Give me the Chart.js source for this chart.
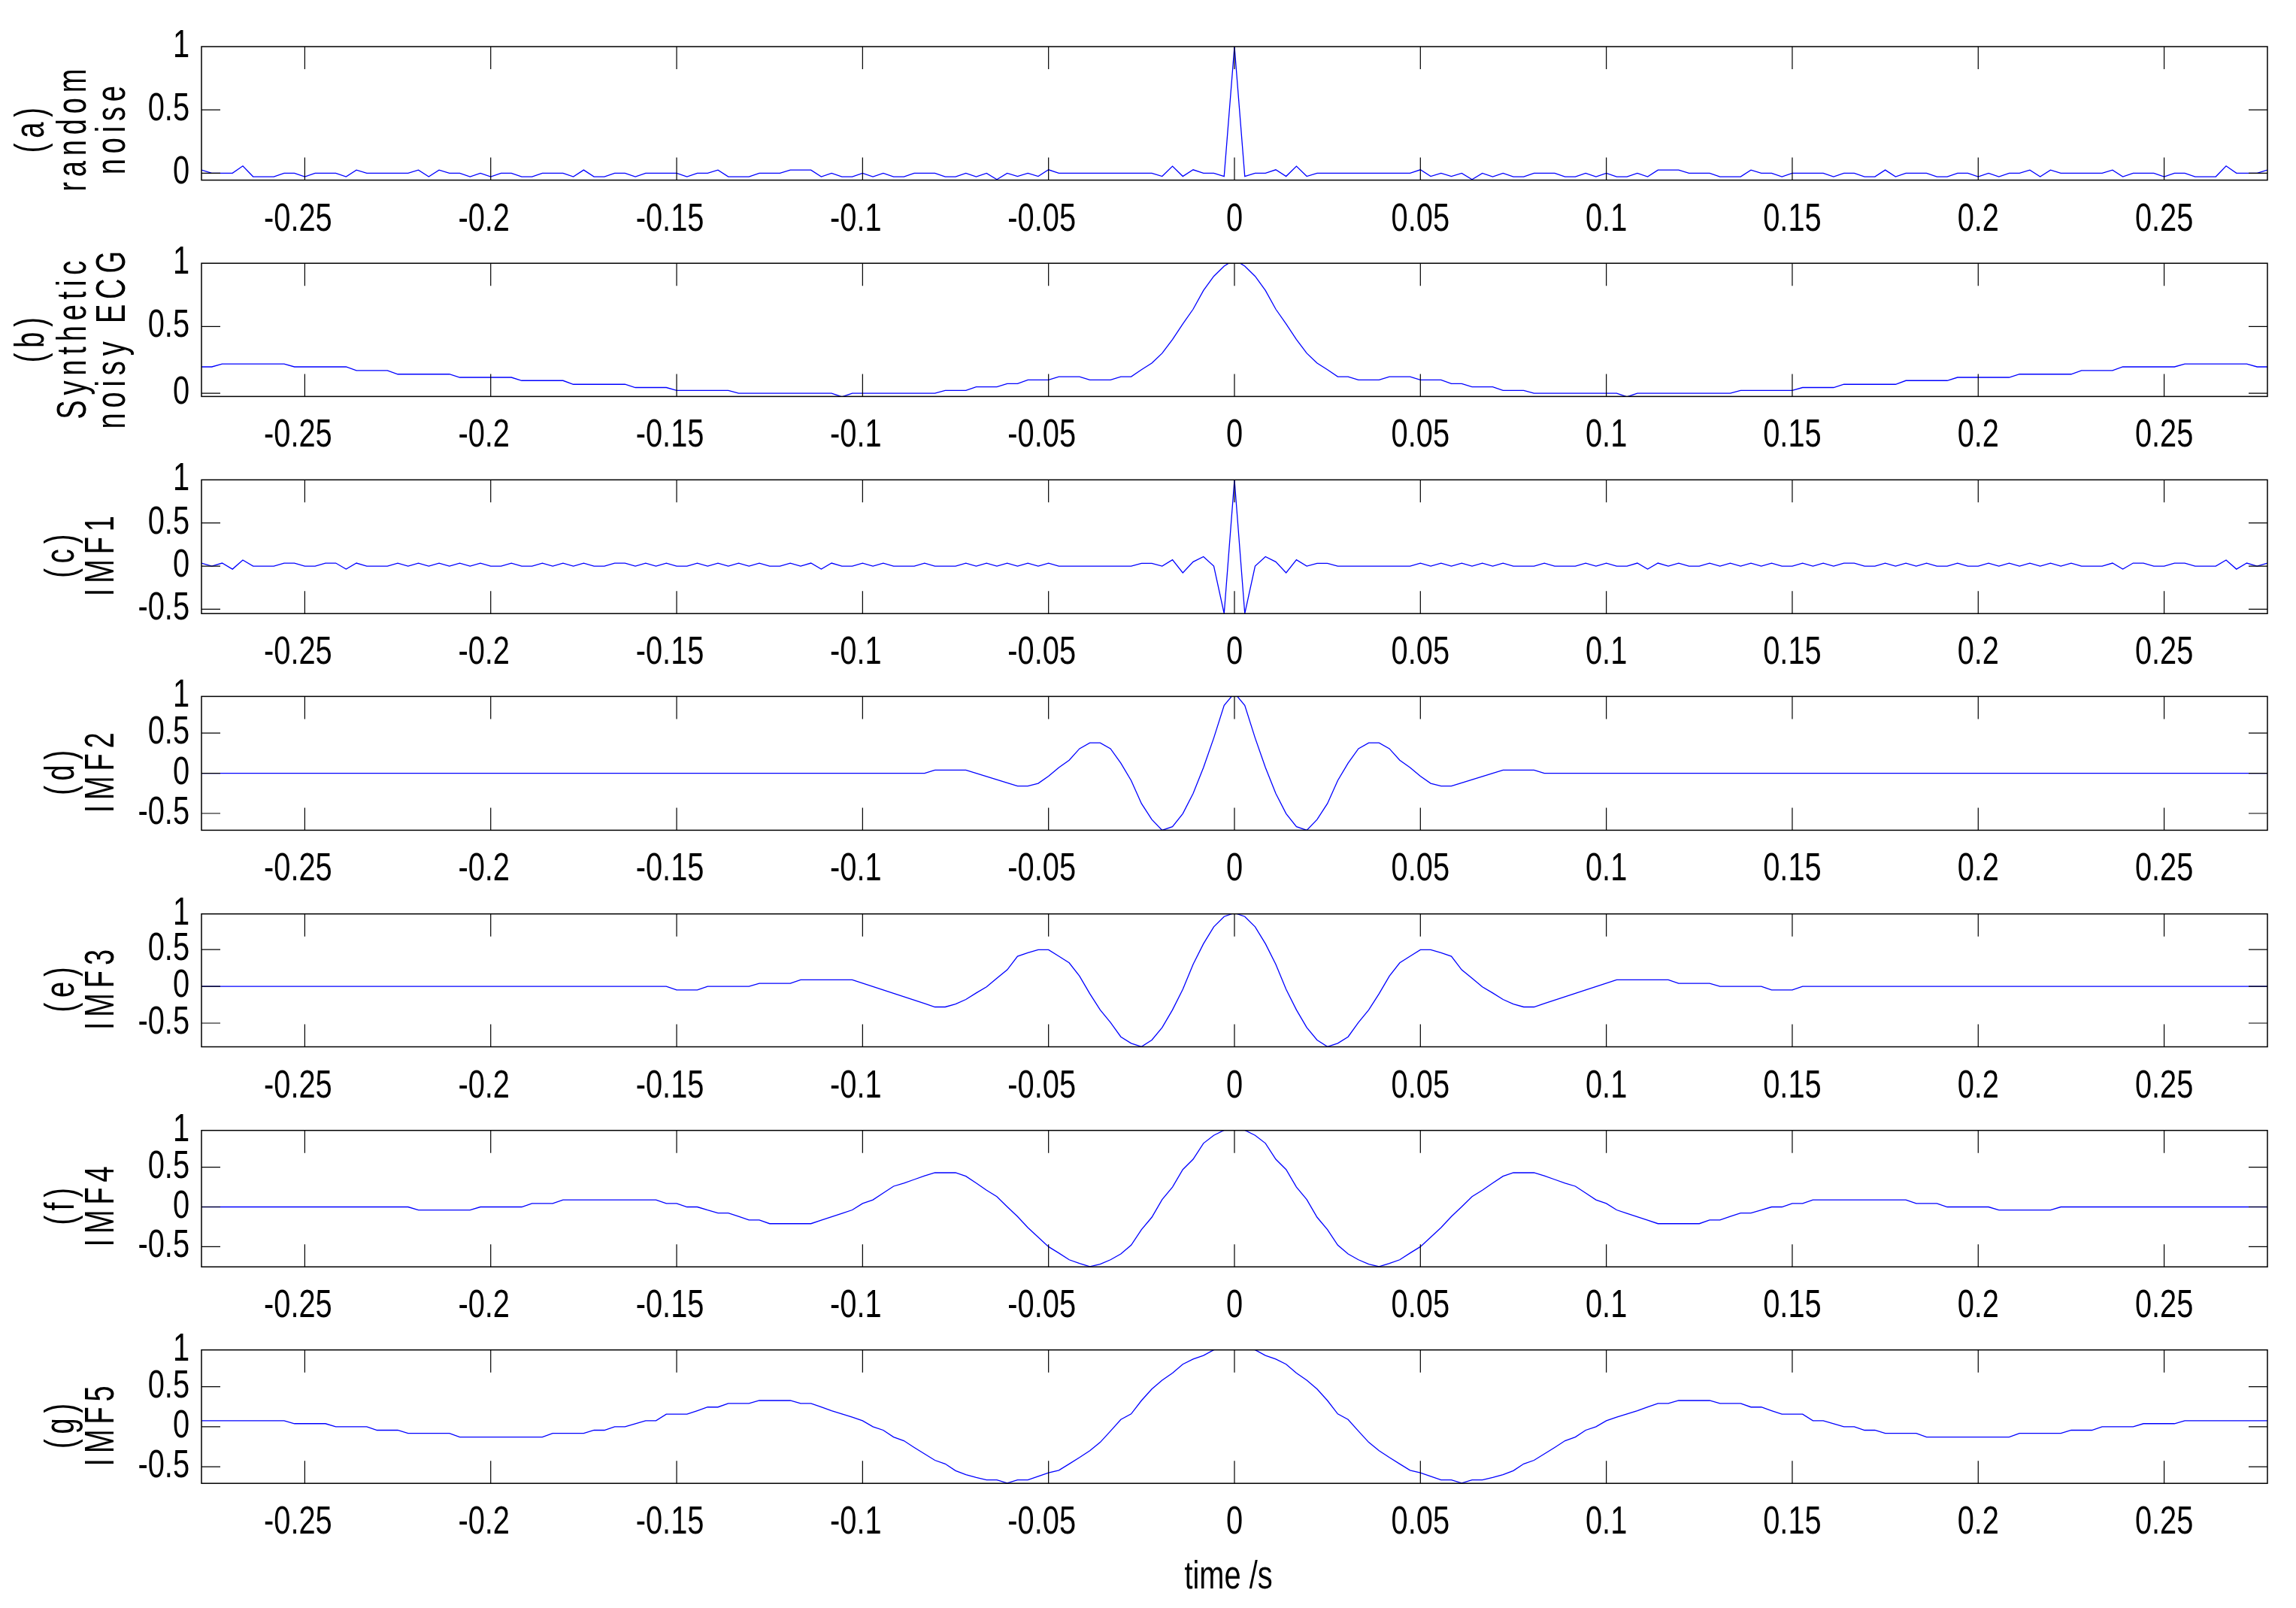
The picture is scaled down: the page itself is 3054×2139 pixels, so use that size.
<!DOCTYPE html>
<html>
<head>
<meta charset="utf-8">
<script src="https://cdn.jsdelivr.net/npm/chart.js@4.4.1/dist/chart.umd.min.js"></script>
<style>
    html, body { margin: 0; padding: 0; background: #fff; }
    #figure { position: relative; width: 3054px; height: 2139px; overflow: hidden; background: #fff; }
    #figure canvas { position: absolute; left: 0; }
</style>
</head>
<body>
<div id="figure"></div>
<script>
// Sample lags: 201 samples at 360 Hz, -100..100
const sampleRate = 360;
const lags = [];
for (let n = -100; n <= 100; n++) lags.push(n / sampleRate);

// x axis ticks (seconds) and their labels
const xTicks      = [-0.25, -0.2, -0.15, -0.1, -0.05, 0, 0.05, 0.1, 0.15, 0.2, 0.25];
const xTickLabels = ["-0.25", "-0.2", "-0.15", "-0.1", "-0.05", "0", "0.05", "0.1", "0.15", "0.2", "0.25"];

// (a) random noise
const noiseSeries = [
    .025,0,0,0,.057,-.028,-.028,-.028,0,0,
    -.028,0,0,0,-.028,.025,0,0,0,0,
    0,.025,-.028,.025,0,0,-.028,0,-.028,0,
    0,-.028,-.028,0,0,0,-.028,.025,-.028,-.028,
    0,0,-.028,0,0,0,0,-.028,0,0,
    .025,-.028,-.028,-.028,0,0,0,.025,.025,.025,
    -.028,0,-.028,-.028,0,-.028,0,-.028,-.028,0,
    0,0,-.028,-.028,0,-.028,0,-.05,0,-.025,
    0,-.025,.027,0,0,0,0,0,0,0,
    0,0,0,-.025,.055,-.025,.027,0,0,-.025,
    1,
    -.025,0,0,.027,-.025,.055,-.025,0,0,0,
    0,0,0,0,0,0,0,.027,-.025,0,
    -.025,0,-.05,0,-.028,0,-.028,-.028,0,0,
    0,-.028,-.028,0,-.028,0,-.028,-.028,0,-.028,
    .025,.025,.025,0,0,0,-.028,-.028,-.028,.025,
    0,0,-.028,0,0,0,0,-.028,0,0,
    -.028,-.028,.025,-.028,0,0,0,-.028,-.028,0,
    0,-.028,0,-.028,0,0,.025,-.028,.025,0,
    0,0,0,0,.025,-.028,0,0,0,-.028,
    0,0,-.028,-.028,-.028,.057,0,0,0,.025
];

// (b) synthetic noisy ECG
const ecgSeries = [
    .198,.198,.22,.22,.22,.22,.22,.22,.22,.198,
    .198,.198,.198,.198,.198,.17,.17,.17,.17,.143,
    .143,.143,.143,.143,.143,.119,.119,.119,.119,.119,
    .119,.095,.095,.095,.095,.095,.067,.067,.067,.067,
    .067,.067,.043,.043,.043,.043,.021,.021,.021,.021,
    .021,.021,0,0,0,0,0,0,0,0,
    0,0,-.027,0,0,0,0,0,0,0,
    0,0,.021,.021,.021,.048,.048,.048,.072,.072,
    .1,.1,.1,.124,.124,.124,.1,.1,.1,.124,
    .124,.177,.226,.3,.403,.52,.63,.77,.877,.953,
    1,
    .953,.877,.77,.63,.52,.403,.3,.226,.177,.124,
    .124,.1,.1,.1,.124,.124,.124,.1,.1,.1,
    .072,.072,.048,.048,.048,.021,.021,.021,0,0,
    0,0,0,0,0,0,0,-.027,0,0,
    0,0,0,0,0,0,0,0,.021,.021,
    .021,.021,.021,.021,.043,.043,.043,.043,.067,.067,
    .067,.067,.067,.067,.095,.095,.095,.095,.095,.119,
    .119,.119,.119,.119,.119,.143,.143,.143,.143,.143,
    .143,.17,.17,.17,.17,.198,.198,.198,.198,.198,
    .198,.22,.22,.22,.22,.22,.22,.22,.198,.198
];

// (c) IMF1
const imf1Series = [
    .035,0,.035,-.035,.07,0,0,0,.035,.035,
    0,0,.035,.035,-.035,.035,0,0,0,.035,
    0,.035,0,.035,0,.035,0,.035,0,0,
    .035,0,0,.035,0,.035,0,.035,0,0,
    .035,.035,0,.035,0,.035,0,0,.035,0,
    .035,0,.035,0,.035,0,0,.035,0,.035,
    -.035,.035,0,0,.035,0,.035,0,0,0,
    .035,0,0,0,.035,0,.035,0,.035,0,
    .035,0,.035,0,0,0,0,0,0,0,
    0,.033,.033,0,.073,-.077,.05,.11,0,-.55,
    1,
    -.55,0,.11,.05,-.077,.073,0,.033,.033,0,
    0,0,0,0,0,0,0,.035,0,.035,
    0,.035,0,.035,0,.035,0,0,0,.035,
    0,0,0,.035,0,.035,0,0,.035,-.035,
    .035,0,.035,0,0,.035,0,.035,0,.035,
    0,.035,0,0,.035,0,.035,0,.035,.035,
    0,0,.035,0,.035,0,.035,0,0,.035,
    0,0,.035,0,.035,0,.035,0,.035,0,
    .035,0,0,0,.035,-.035,.035,.035,0,0,
    .035,.035,0,0,0,.07,-.035,.035,0,.035
];

// (d) IMF2
const imf2Series = [
    0,0,0,0,0,0,0,0,0,0,
    0,0,0,0,0,0,0,0,0,0,
    0,0,0,0,0,0,0,0,0,0,
    0,0,0,0,0,0,0,0,0,0,
    0,0,0,0,0,0,0,0,0,0,
    0,0,0,0,0,0,0,0,0,0,
    0,0,0,0,0,0,0,0,0,0,
    0,.04,.04,.04,.04,0,-.04,-.08,-.12,-.16,
    -.16,-.126,-.036,.072,.162,.306,.378,.378,.306,.126,
    -.09,-.378,-.576,-.71,-.665,-.504,-.252,.072,.44,.845,
    1,
    .845,.44,.072,-.252,-.504,-.665,-.71,-.576,-.378,-.09,
    .126,.306,.378,.378,.306,.162,.072,-.036,-.126,-.16,
    -.16,-.12,-.08,-.04,0,.04,.04,.04,.04,0,
    0,0,0,0,0,0,0,0,0,0,
    0,0,0,0,0,0,0,0,0,0,
    0,0,0,0,0,0,0,0,0,0,
    0,0,0,0,0,0,0,0,0,0,
    0,0,0,0,0,0,0,0,0,0,
    0,0,0,0,0,0,0,0,0,0,
    0,0,0,0,0,0,0,0,0,0
];

// (e) IMF3
const imf3Series = [
    0,0,0,0,0,0,0,0,0,0,
    0,0,0,0,0,0,0,0,0,0,
    0,0,0,0,0,0,0,0,0,0,
    0,0,0,0,0,0,0,0,0,0,
    0,0,0,0,0,0,-.048,-.048,-.048,0,
    0,0,0,0,.041,.041,.041,.041,.089,.089,
    .089,.089,.089,.089,.043,-.003,-.049,-.095,-.141,-.187,
    -.233,-.28,-.28,-.24,-.178,-.09,-.007,.11,.225,.41,
    .457,.498,.498,.41,.32,.14,-.1,-.32,-.49,-.686,
    -.775,-.82,-.73,-.56,-.32,-.04,.3,.58,.81,.95,
    1,
    .95,.81,.58,.3,-.04,-.32,-.56,-.73,-.82,-.775,
    -.686,-.49,-.32,-.1,.14,.32,.41,.498,.498,.457,
    .41,.225,.11,-.007,-.09,-.178,-.24,-.28,-.28,-.233,
    -.187,-.141,-.095,-.049,-.003,.043,.089,.089,.089,.089,
    .089,.089,.041,.041,.041,.041,0,0,0,0,
    0,-.048,-.048,-.048,0,0,0,0,0,0,
    0,0,0,0,0,0,0,0,0,0,
    0,0,0,0,0,0,0,0,0,0,
    0,0,0,0,0,0,0,0,0,0,
    0,0,0,0,0,0,0,0,0,0
];

// (f) IMF4
const imf4Series = [
    0,0,0,0,0,0,0,0,0,0,
    0,0,0,0,0,0,0,0,0,0,
    0,-.038,-.038,-.038,-.038,-.038,-.038,0,0,0,
    0,0,.044,.044,.044,.089,.089,.089,.089,.089,
    .089,.089,.089,.089,.089,.044,.044,0,0,-.04,
    -.076,-.076,-.12,-.165,-.165,-.21,-.21,-.21,-.21,-.21,
    -.167,-.124,-.081,-.038,.044,.089,.175,.26,.30,.345,
    .39,.43,.43,.43,.386,.30,.21,.13,.003,-.12,
    -.26,-.38,-.5,-.58,-.664,-.71,-.75,-.72,-.664,-.59,
    -.48,-.285,-.13,.094,.25,.47,.6,.8,.9,.965,
    1,
    .965,.9,.8,.6,.47,.25,.094,-.13,-.285,-.48,
    -.59,-.664,-.72,-.75,-.71,-.664,-.58,-.5,-.38,-.26,
    -.12,.003,.13,.21,.30,.386,.43,.43,.43,.39,
    .345,.30,.26,.175,.089,.044,-.038,-.081,-.124,-.167,
    -.21,-.21,-.21,-.21,-.21,-.165,-.165,-.12,-.076,-.076,
    -.04,0,0,.044,.044,.089,.089,.089,.089,.089,
    .089,.089,.089,.089,.089,.044,.044,.044,0,0,
    0,0,0,-.038,-.038,-.038,-.038,-.038,-.038,0,
    0,0,0,0,0,0,0,0,0,0,
    0,0,0,0,0,0,0,0,0,0
];

// (g) IMF5
const imf5Series = [
    .075,.075,.075,.075,.075,.075,.075,.075,.075,.038,
    .038,.038,.038,0,0,0,0,-.044,-.044,-.044,
    -.082,-.082,-.082,-.082,-.082,-.13,-.13,-.13,-.13,-.13,
    -.13,-.13,-.13,-.13,-.082,-.082,-.082,-.082,-.044,-.044,
    0,0,.038,.075,.075,.157,.157,.157,.2,.245,
    .245,.29,.29,.29,.327,.327,.327,.327,.29,.29,
    .245,.2,.16,.12,.075,0,-.044,-.13,-.176,-.26,
    -.34,-.42,-.465,-.55,-.6,-.635,-.665,-.665,-.705,-.665,
    -.665,-.62,-.575,-.545,-.465,-.385,-.3,-.195,-.055,.09,
    .16,.327,.47,.58,.67,.78,.845,.89,.96,.99,
    1,
    .99,.96,.89,.845,.78,.67,.58,.47,.327,.16,
    .09,-.055,-.195,-.3,-.385,-.465,-.545,-.575,-.62,-.665,
    -.665,-.705,-.665,-.665,-.635,-.6,-.55,-.465,-.42,-.34,
    -.26,-.176,-.13,-.044,0,.075,.12,.16,.2,.245,
    .29,.29,.327,.327,.327,.327,.29,.29,.29,.245,
    .245,.2,.157,.157,.157,.075,.075,.038,0,0,
    -.044,-.044,-.082,-.082,-.082,-.082,-.13,-.13,-.13,-.13,
    -.13,-.13,-.13,-.13,-.13,-.082,-.082,-.082,-.082,-.082,
    -.044,-.044,-.044,0,0,0,0,.038,.038,.038,
    .038,.075,.075,.075,.075,.075,.075,.075,.075,.075
];

// y ticks per panel
const yTicksPos  = [0, 0.5, 1];
const yLabelsPos = ["0", "0.5", "1"];
const yTicksSym  = [-0.5, 0, 0.5, 1];
const yLabelsSym = ["-0.5", "0", "0.5", "1"];

// Panel layout (figure pixels) and axis limits
const panels = [
    { series: noiseSeries, title: ["(a)", "random", "noise"],      top: 62.0,   bottom: 239.6,  yMin: -0.055, yMax: 1,     ticks: yTicksPos, tickLabels: yLabelsPos, shift: 16 },
    { series: ecgSeries,   title: ["(b)", "Synthetic", "noisy ECG"], top: 350.2, bottom: 527.4,  yMin: -0.024, yMax: 0.974, ticks: yTicksPos, tickLabels: yLabelsPos, shift: 7 },
    { series: imf1Series,  title: ["(c)", "IMF1"], top: 638.3,  bottom: 816.2,  yMin: -0.55,  yMax: 1,     ticks: yTicksSym, tickLabels: yLabelsSym, shift: 6 },
    { series: imf2Series,  title: ["(d)", "IMF2"], top: 926.4,  bottom: 1104.4, yMin: -0.71,  yMax: 0.957, ticks: yTicksSym, tickLabels: yLabelsSym, shift: 6 },
    { series: imf3Series,  title: ["(e)", "IMF3"], top: 1215.7, bottom: 1392.5, yMin: -0.822, yMax: 0.986, ticks: yTicksSym, tickLabels: yLabelsSym, shift: 6 },
    { series: imf4Series,  title: ["(f)", "IMF4"], top: 1503.7, bottom: 1685.2, yMin: -0.753, yMax: 0.962, ticks: yTicksSym, tickLabels: yLabelsSym, shift: 4 },
    { series: imf5Series,  title: ["(g)", "IMF5"], top: 1795.7, bottom: 1973.2, yMin: -0.708, yMax: 0.959, ticks: yTicksSym, tickLabels: yLabelsSym, shift: 6, xTitle: "time /s" }
];

const FIG_W       = 3054;
const AXIS_LEFT   = 268;
const AXIS_RIGHT  = 3016;
const X_TICK_LEN  = 30;
const Y_TICK_LEN  = 25;
const TICK_FONT   = '51px "Liberation Sans", Arial, Helvetica, sans-serif';
const LABEL_FONT  = '56px "Liberation Sans", Arial, Helvetica, sans-serif';

// Draw text squeezed horizontally (the original uses a narrow face)
function squeezedText(ctx, text, x, y, align, sx) {
    ctx.save();
    ctx.translate(x, y);
    ctx.scale(sx, 1);
    ctx.textAlign = align;
    ctx.textBaseline = "alphabetic";
    ctx.fillText(text, 0, 0);
    ctx.restore();
}

// MATLAB-style box, inward ticks and labels
const matlabAxes = {
    id: "matlabAxes",
    afterDraw(chart, args, opts) {
        const ctx = chart.ctx;
        const a   = chart.chartArea;
        const xs  = chart.scales.x;
        const ys  = chart.scales.y;

        ctx.save();
        ctx.strokeStyle = "#000";
        ctx.lineWidth = 1.2;
        ctx.beginPath();
        xTicks.forEach(v => {
            const px = xs.getPixelForValue(v);
            ctx.moveTo(px, a.bottom); ctx.lineTo(px, a.bottom - X_TICK_LEN);
            ctx.moveTo(px, a.top);    ctx.lineTo(px, a.top + X_TICK_LEN);
        });
        opts.ticks.forEach(v => {
            if (v >= ys.max) return;
            const py = ys.getPixelForValue(v);
            ctx.moveTo(a.left, py);  ctx.lineTo(a.left + Y_TICK_LEN, py);
            ctx.moveTo(a.right, py); ctx.lineTo(a.right - Y_TICK_LEN, py);
        });
        ctx.stroke();

        ctx.lineWidth = 1.5;
        ctx.strokeRect(a.left, a.top, a.right - a.left, a.bottom - a.top);

        // tick labels
        ctx.fillStyle = "#000";
        ctx.font = TICK_FONT;
        xTicks.forEach((v, i) => {
            const px = xs.getPixelForValue(v) - (v < 0 ? 9 : 0);
            squeezedText(ctx, xTickLabels[i], px, a.bottom + 67, "center", 0.78);
        });
        opts.ticks.forEach((v, i) => {
            const py = ys.getPixelForValue(Math.min(v, ys.max));
            squeezedText(ctx, opts.tickLabels[i], a.left - 16, py + 14, "right", 0.78);
        });

        // rotated y label, one column per line; narrow glyphs, spaced out
        ctx.font = LABEL_FONT;
        const cy = (a.top + a.bottom) / 2 + opts.shift;
        const lines = opts.title;
        const baseX = lines.length === 3 ? [58, 114, 166] : [98, 151];
        lines.forEach((line, i) => {
            ctx.save();
            ctx.translate(baseX[i], cy + 3);
            ctx.rotate(-Math.PI / 2);
            ctx.scale(0.68, 1);
            ctx.letterSpacing = "10px";
            ctx.textAlign = "center";
            ctx.textBaseline = "alphabetic";
            ctx.fillText(line, 0, 0);
            ctx.restore();
        });

        if (opts.xTitle) {
            ctx.font = TICK_FONT;
            squeezedText(ctx, opts.xTitle, 1634, a.bottom + 140, "center", 0.78);
        }
        ctx.restore();
    }
};

const figure = document.getElementById("figure");

panels.forEach(p => {
    const canvasTop = Math.round(p.top) - 50;
    const padTop    = p.top - canvasTop;
    const below     = p.xTitle ? 165 : 80;
    const height    = Math.ceil(p.bottom - canvasTop + below);
    const padBottom = height - (p.bottom - canvasTop);

    const canvas = document.createElement("canvas");
    canvas.width  = FIG_W;
    canvas.height = height;
    canvas.style.top = canvasTop + "px";
    figure.appendChild(canvas);

    new Chart(canvas.getContext("2d"), {
        type: "line",
        data: {
            datasets: [{
                data: p.series.map((v, i) => ({ x: lags[i], y: v })),
                borderColor: "#0000ff",
                borderWidth: 1.3,
                pointRadius: 0,
                tension: 0,
                fill: false
            }]
        },
        options: {
            responsive: false,
            animation: false,
            devicePixelRatio: 1,
            events: [],
            layout: { padding: { left: AXIS_LEFT, right: FIG_W - AXIS_RIGHT, top: padTop, bottom: padBottom } },
            plugins: {
                legend: { display: false },
                tooltip: { enabled: false },
                matlabAxes: p
            },
            scales: {
                x: { type: "linear", display: false, min: lags[0], max: lags[lags.length - 1] },
                y: { type: "linear", display: false, min: p.yMin, max: p.yMax }
            }
        },
        plugins: [matlabAxes]
    });
});
</script>
</body>
</html>
